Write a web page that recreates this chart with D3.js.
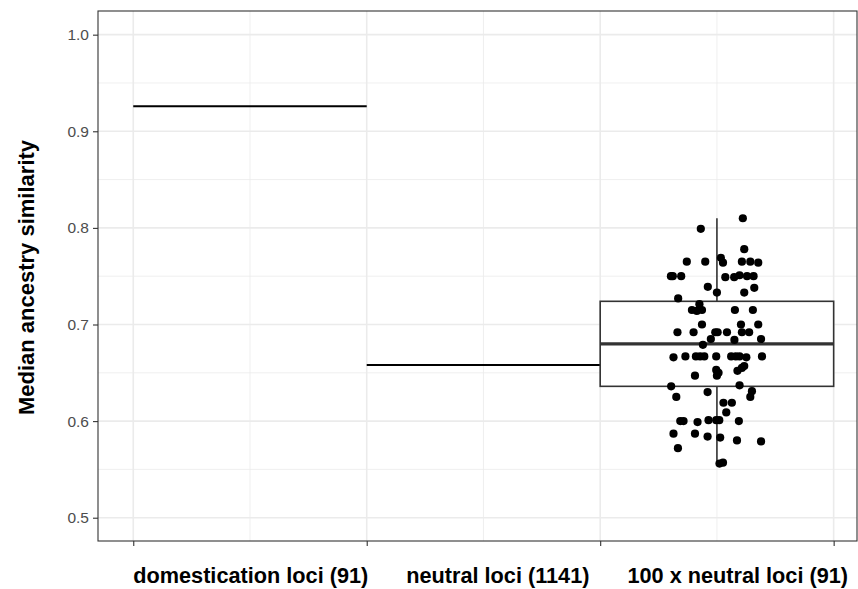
<!DOCTYPE html>
<html>
<head>
<meta charset="utf-8">
<script src="https://cdn.jsdelivr.net/npm/d3@7"></script>
<style>
  body { margin: 0; background: #fff; }
  svg { display: block; font-family: "Liberation Sans", Arial, sans-serif; }
  .grid line { stroke: #ebebeb; }
  .axis text { fill: #4d4d4d; font-size: 15.5px; }
  .axis line, .axis path { stroke: #333333; }
</style>
</head>
<body>
<svg width="858" height="589"></svg>
<script>
const categories = ["domestication loci (91)", "neutral loci (1141)", "100 x neutral loci (91)"];
const catStart = [1, 2, 3];
const singleMedians = [0.926, 0.658];
// min, q1, median, q3, max of the 100 x neutral loci set
const boxStats = [0.556, 0.636, 0.680, 0.724, 0.810];

const yTicks = [0.5, 0.6, 0.7, 0.8, 0.9, 1.0];

const pointValues = [
  0.810, 0.799, 0.778, 0.765, 0.765, 0.769, 0.764, 0.765, 0.765, 0.764,
  0.750, 0.750, 0.750, 0.749, 0.749, 0.751, 0.750, 0.750, 0.739, 0.733,
  0.733, 0.738, 0.727, 0.721, 0.715, 0.714, 0.715, 0.715, 0.715, 0.700,
  0.700, 0.700, 0.692, 0.692, 0.692, 0.692, 0.692, 0.692, 0.692, 0.685,
  0.684, 0.685, 0.679, 0.666, 0.667, 0.667, 0.667, 0.667, 0.667, 0.667,
  0.667, 0.667, 0.666, 0.667, 0.653, 0.650, 0.647, 0.652, 0.655, 0.657,
  0.647, 0.636, 0.637, 0.625, 0.630, 0.631, 0.625, 0.619, 0.619, 0.609,
  0.600, 0.600, 0.599, 0.601, 0.601, 0.601, 0.600, 0.587, 0.587, 0.584,
  0.583, 0.580, 0.579, 0.572, 0.556, 0.557
];
const pointJitter = [
  0.111, -0.069, 0.117, -0.129, -0.050, 0.017, 0.026, 0.107, 0.143, 0.177,
  -0.197, -0.189, -0.153, 0.036, 0.074, 0.097, 0.129, 0.157, -0.039, 0.000,
  0.117, 0.160, -0.166, -0.075, -0.107, -0.086, -0.064, 0.077, 0.154, -0.064,
  0.103, 0.177, -0.169, -0.100, -0.007, 0.003, 0.043, 0.107, 0.138, -0.026,
  0.075, 0.189, -0.060, -0.186, -0.135, -0.090, -0.072, -0.054, -0.003, 0.061,
  0.081, 0.097, 0.126, 0.193, -0.003, 0.007, 0.000, 0.088, 0.107, 0.117,
  -0.094, -0.196, 0.097, -0.174, -0.040, 0.150, 0.143, 0.028, 0.064, 0.040,
  -0.157, -0.143, -0.083, -0.036, -0.003, 0.010, 0.094, -0.186, -0.094, -0.040,
  0.014, 0.086, 0.189, -0.167, 0.011, 0.026
];

let svg = d3.select("svg");
let panel = { left: 98, right: 857, top: 11, bottom: 541 };

let xScale = d3.scaleLinear().domain([0.849, 4.10]).range([panel.left, panel.right]);
let yScale = d3.scaleLinear().domain([0.4759, 1.0245]).range([panel.bottom, panel.top]);

// grid
let grid = svg.append("g").attr("class", "grid");
let xMajor = [1, 2, 3, 4];
let xMinor = [1.5, 2.5, 3.5];
let yMinor = [0.55, 0.65, 0.75, 0.85, 0.95];
grid.selectAll(".ymin").data(yMinor).enter().append("line")
  .attr("x1", panel.left).attr("x2", panel.right)
  .attr("y1", (d) => yScale(d)).attr("y2", (d) => yScale(d))
  .attr("stroke-width", 0.8);
grid.selectAll(".xmin").data(xMinor).enter().append("line")
  .attr("y1", panel.top).attr("y2", panel.bottom)
  .attr("x1", (d) => xScale(d)).attr("x2", (d) => xScale(d))
  .attr("stroke-width", 0.8);
grid.selectAll(".ymaj").data(yTicks).enter().append("line")
  .attr("x1", panel.left).attr("x2", panel.right)
  .attr("y1", (d) => yScale(d)).attr("y2", (d) => yScale(d))
  .attr("stroke-width", 1.6);
grid.selectAll(".xmaj").data(xMajor).enter().append("line")
  .attr("y1", panel.top).attr("y2", panel.bottom)
  .attr("x1", (d) => xScale(d)).attr("x2", (d) => xScale(d))
  .attr("stroke-width", 1.6);

// single median lines
let fig = svg.append("g");
fig.selectAll(".seg").data(singleMedians).enter().append("line")
  .attr("x1", (d, i) => xScale(catStart[i]))
  .attr("x2", (d, i) => xScale(catStart[i] + 1))
  .attr("y1", (d) => yScale(d)).attr("y2", (d) => yScale(d))
  .attr("stroke", "#000").attr("stroke-width", 2);

// boxplot
let bx0 = xScale(catStart[2]), bx1 = xScale(catStart[2] + 1), bxc = xScale(catStart[2] + 0.5);
fig.append("line").attr("x1", bxc).attr("x2", bxc)
  .attr("y1", yScale(boxStats[4])).attr("y2", yScale(boxStats[3]))
  .attr("stroke", "#333").attr("stroke-width", 1.6);
fig.append("line").attr("x1", bxc).attr("x2", bxc)
  .attr("y1", yScale(boxStats[1])).attr("y2", yScale(boxStats[0]))
  .attr("stroke", "#333").attr("stroke-width", 1.6);
fig.append("rect").attr("x", bx0).attr("width", bx1 - bx0)
  .attr("y", yScale(boxStats[3])).attr("height", yScale(boxStats[1]) - yScale(boxStats[3]))
  .attr("fill", "#fff").attr("stroke", "#333").attr("stroke-width", 1.6);
fig.append("line").attr("x1", bx0).attr("x2", bx1)
  .attr("y1", yScale(boxStats[2])).attr("y2", yScale(boxStats[2]))
  .attr("stroke", "#333").attr("stroke-width", 3.2);

// jittered points
fig.selectAll("circle").data(pointValues).enter().append("circle")
  .attr("cx", (d, i) => xScale(catStart[2] + 0.5 + pointJitter[i]))
  .attr("cy", (d) => yScale(d))
  .attr("r", 4.1)
  .attr("fill", "#000");

// panel border
svg.append("rect")
  .attr("x", panel.left).attr("y", panel.top)
  .attr("width", panel.right - panel.left).attr("height", panel.bottom - panel.top)
  .attr("fill", "none").attr("stroke", "#333").attr("stroke-width", 1.1);

// axes
svg.append("g").attr("class", "axis")
  .attr("transform", `translate(${panel.left},0)`)
  .call(d3.axisLeft(yScale).tickValues(yTicks).tickFormat(d3.format(".1f")).tickSize(5).tickPadding(4))
  .call((g) => g.select(".domain").remove());

svg.append("g").attr("class", "axis")
  .attr("transform", `translate(0,${panel.bottom})`)
  .call(d3.axisBottom(xScale).tickValues(xMajor).tickFormat("").tickSize(5))
  .call((g) => g.select(".domain").remove());

svg.selectAll(".axis line").attr("stroke-width", 1.1);

// x category labels, laid out as one spaced line
let gap = 38;
let xPos = xScale(1);
categories.forEach((c) => {
  let t = svg.append("text")
    .attr("x", xPos).attr("y", 583)
    .attr("font-size", 21.7).attr("font-weight", "bold").attr("fill", "#000")
    .text(c);
  xPos += t.node().getComputedTextLength() + gap;
});

// y title
svg.append("text")
  .attr("transform", `translate(34,277.5) rotate(-90)`)
  .attr("text-anchor", "middle")
  .attr("font-size", 22).attr("font-weight", "bold").attr("fill", "#000")
  .text("Median ancestry similarity");
</script>
</body>
</html>
